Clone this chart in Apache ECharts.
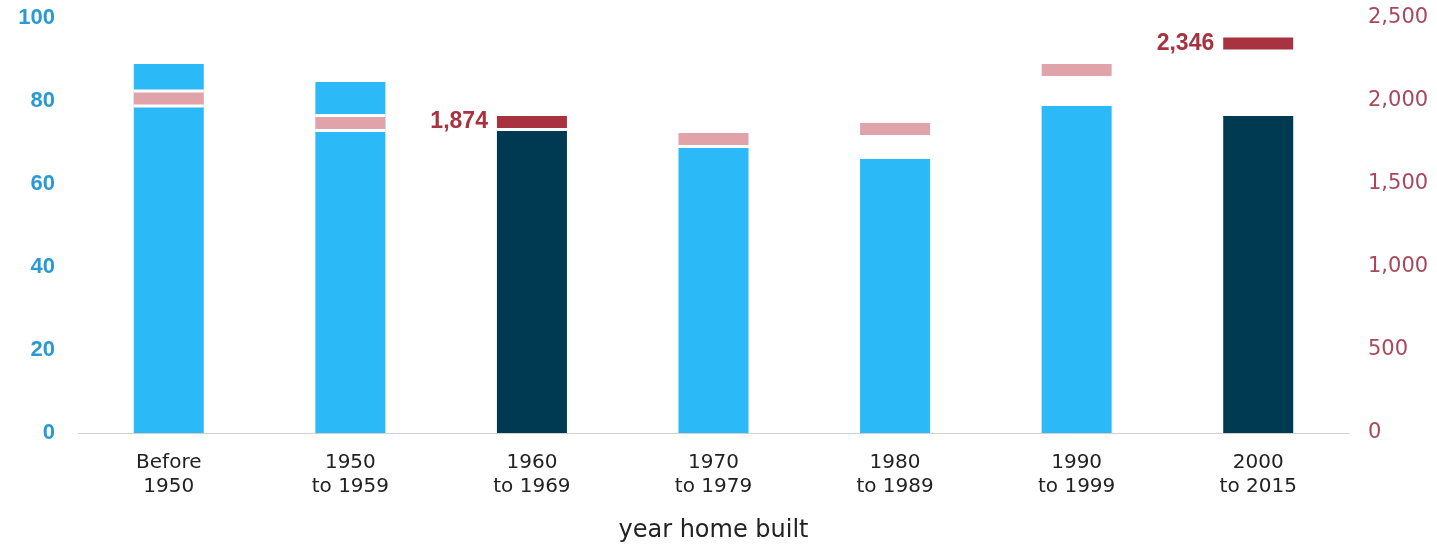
<!DOCTYPE html>
<html><head><meta charset="utf-8">
<script src="https://cdn.jsdelivr.net/npm/echarts@6/dist/echarts.min.js"></script>
<style>html,body{margin:0;padding:0;background:#fff}#c{width:1437px;height:545px}</style>
</head><body><div id="c"></div>
<script>
const categories = ['Before\n1950','1950\nto 1959','1960\nto 1969','1970\nto 1979','1980\nto 1989','1990\nto 1999','2000\nto 2015'];
const shareValues = [88.9, 84.6, 73.3, 68.7, 66.0, 78.8, 76.4];
const sizeValues = [2015, 1868, 1874, 1771, 1831, 2187, 2346];
const highlighted = [false, false, true, false, false, false, true];
const leftTicks = [0, 20, 40, 60, 80, 100];
const rightTicks = [0, 500, 1000, 1500, 2000, 2500];

const chart = echarts.init(document.getElementById('c'));
const fmt = v => v.toLocaleString('en-US');
const sans = 'DejaVu Sans';
const arial = 'Liberation Sans';
chart.setOption({
  animation: false,
  grid: {left: 78, right: 88, top: 18, bottom: 112, containLabel: false, outerBoundsMode: 'none'},
  xAxis: {
    type: 'category', data: categories,
    axisLine: {lineStyle: {color: '#d0d0d0', width: 1}},
    axisTick: {show: false},
    axisLabel: {fontSize: 20, color: '#222', lineHeight: 24, margin: 18, fontFamily: sans},
    name: 'year home built', nameLocation: 'middle', nameGap: 86,
    nameTextStyle: {fontSize: 24, color: '#222', fontFamily: sans}
  },
  yAxis: [
    {type: 'value', min: leftTicks[0], max: leftTicks[leftTicks.length-1], interval: 20,
     splitLine: {show: false}, axisLine: {show: false}, axisTick: {show: false},
     axisLabel: {fontSize: 22, fontWeight: 'bold', color: '#2a9ad4', margin: 23, fontFamily: arial}},
    {type: 'value', min: rightTicks[0], max: rightTicks[rightTicks.length-1], interval: 500,
     splitLine: {show: false}, axisLine: {show: false}, axisTick: {show: false},
     axisLabel: {fontSize: 21, color: '#a8485a', margin: 19, formatter: v => fmt(v), fontFamily: sans}}
  ],
  series: [
    {type: 'bar', yAxisIndex: 0, barWidth: 70, z: 2,
     data: shareValues.map((v, i) => ({value: v, itemStyle: {color: highlighted[i] ? '#003a52' : '#2bb9f8'}}))},
    {type: 'scatter', yAxisIndex: 1, symbol: 'rect', symbolSize: [70, 18], z: 3, silent: true,
     itemStyle: {color: '#ffffff', opacity: 1},
     data: sizeValues},
    {type: 'scatter', yAxisIndex: 1, symbol: 'rect', symbolSize: [70, 12], z: 4,
     data: sizeValues.map((v, i) => ({
       value: v,
       itemStyle: {color: highlighted[i] ? '#a8323f' : '#e0a3aa', opacity: 1},
       label: {show: highlighted[i], position: 'left', distance: 9, formatter: p => fmt(p.value),
               fontSize: 23, fontWeight: 'bold', color: '#a8323f', fontFamily: arial}
     }))}
  ]
});
</script></body></html>
